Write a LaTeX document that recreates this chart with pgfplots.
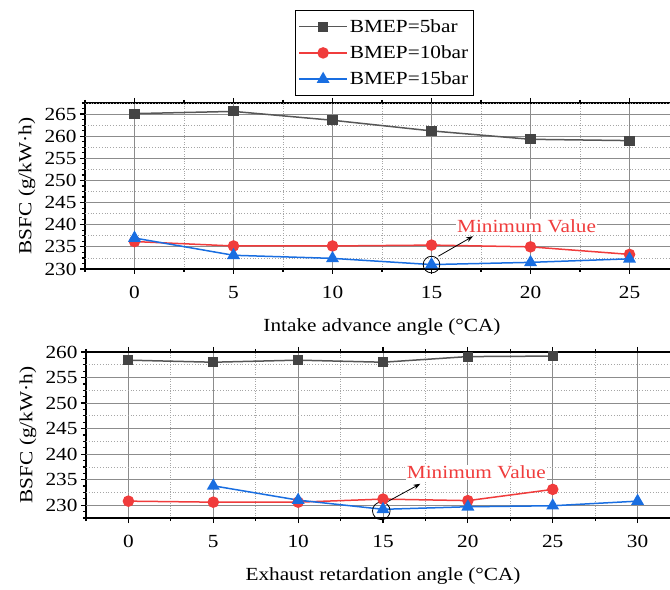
\documentclass[border=0pt]{standalone}
\usepackage{fontspec}
\setmainfont{Liberation Serif}[FakeStretch=1.15]
\usepackage{pgfplots}
\pgfplotsset{compat=1.18}
\usetikzlibrary{arrows.meta}
\definecolor{cblack}{RGB}{68,68,68}
\definecolor{cred}{RGB}{240,60,60}
\definecolor{cblue}{RGB}{25,110,225}
\newcommand{\fs}{\fontsize{18.5bp}{21bp}\selectfont}
\tikzset{dgrid/.style={black!35, dotted, line width=0.8bp},
         sgrid/.style={black!45, line width=0.9bp}}
\pgfplotsset{
 common/.style={
  scale only axis, width=594bp, height=166bp,
  clip=false,
  axis line style={line width=1.6bp,black},
  xmin=-2.5,
  tick align=outside,
  tick style={black,line width=1.2bp},
  major tick length=5bp, minor tick length=3bp,
  xmajorgrids=true, xminorgrids=true, ymajorgrids=false, yminorgrids=false,
  major grid style={black!45, line width=0.9bp},
  minor grid style={black!35, dotted, line width=0.8bp},
  xtick distance=5, minor x tick num=1,
  ytick distance=5, minor y tick num=3,
  /pgf/number format/assume math mode=true,
  ticklabel style={font=\fs},
  xticklabel style={yshift=-9bp},
  every axis y label/.style={at={(axis description cs:-0.0976,0.5)},rotate=90,anchor=center,font=\fs},
  every axis x label/.style={at={(axis description cs:0.5,-0.35)},anchor=center,font=\fs},
  ylabel={BSFC (g/kW·h)},
 },
 s1/.style={color=cblack!90, line width=1.5bp, mark=square*, mark size=4.3bp, mark options={solid, fill=cblack, draw=cblack}},
 s2/.style={color=cred, line width=1.5bp, mark=*, mark size=5bp, mark options={solid, fill=cred, draw=cred}},
 s3/.style={color=cblue, line width=1.5bp, mark=triangle*, mark size=6bp, mark options={solid, fill=cblue, draw=cblue}},
}
\begin{document}
\begin{tikzpicture}
\useasboundingbox (0,0) rectangle (670bp,590bp);
\begin{axis}[common,
  at={(85bp,321bp)}, anchor=south west,
  xmax=27.5, ymin=230, ymax=267.5,
  xlabel={Intake advance angle (°CA)},
  legend style={at={(axis description cs:0.3535,1.560)}, anchor=north west, draw=black, line width=0.8bp,
    font=\fs, inner xsep=3bp, inner ysep=7bp, row sep=8bp, cells={anchor=west}},
  legend image code/.code={\draw[mark repeat=2,mark phase=2] plot coordinates {(0bp,0bp) (24bp,0bp) (48bp,0bp)};},
]
\pgfplotsinvokeforeach{232.5,237.5,242.5,247.5,252.5,257.5,262.5,267.5}{\draw[dgrid] (axis cs:-2.5,#1) -- (axis cs:27.5,#1);}
\pgfplotsinvokeforeach{235,240,245,250,255,260,265}{\draw[sgrid] (axis cs:-2.5,#1) -- (axis cs:27.5,#1);}
\addplot[s1] coordinates {(0,265.1) (5,265.6) (10,263.6) (15,261.2) (20,259.3) (25,259.0)};
\addlegendentry{BMEP=5bar}
\addplot[s2] coordinates {(0,236.2) (5,235.2) (10,235.2) (15,235.4) (20,235.0) (25,233.3)};
\addlegendentry{BMEP=10bar}
\addplot[s3] coordinates {(0,237.0) (5,233.1) (10,232.4) (15,231.0) (20,231.5) (25,232.3)};
\addlegendentry{BMEP=15bar}
\draw[line width=0.8bp] (axis cs:15,231) circle[radius=8.3bp];
\draw[line width=0.8bp,-{Stealth[length=7bp,width=5bp]}] (axis cs:15.35,232.9) -- (axis cs:17.1,237.4);
\node[fill=white, text=cred, inner sep=1bp, font=\fs] at (axis cs:19.8,239.6) {Minimum Value};
\end{axis}
\begin{axis}[common,
  at={(86bp,72bp)}, anchor=south west,
  xmax=32.5, ymin=227.5, ymax=260,
  xlabel={Exhaust retardation angle (°CA)},
]
\pgfplotsinvokeforeach{232.5,237.5,242.5,247.5,252.5,257.5}{\draw[dgrid] (axis cs:-2.5,#1) -- (axis cs:32.5,#1);}
\pgfplotsinvokeforeach{230,235,240,245,250,255}{\draw[sgrid] (axis cs:-2.5,#1) -- (axis cs:32.5,#1);}
\addplot[s1] coordinates {(0,258.4) (5,258.0) (10,258.4) (15,258.0) (20,259.1) (25,259.2)};
\addplot[s2] coordinates {(0,230.8) (5,230.6) (10,230.6) (15,231.2) (20,230.9) (25,233.1)};
\addplot[s3] coordinates {(5,233.8) (10,231.0) (15,229.2) (20,229.7) (25,229.9) (30,230.8)};
\draw[line width=0.8bp] (axis cs:14.9,228.9) circle[radius=8.8bp];
\draw[line width=0.8bp,-{Stealth[length=7bp,width=5bp]}] (axis cs:15.1,230.4) -- (axis cs:17.2,234.2);
\node[fill=white, text=cred, inner sep=1bp, font=\fs] at (axis cs:20.5,236.4) {Minimum Value};
\end{axis}
\end{tikzpicture}
\end{document}
